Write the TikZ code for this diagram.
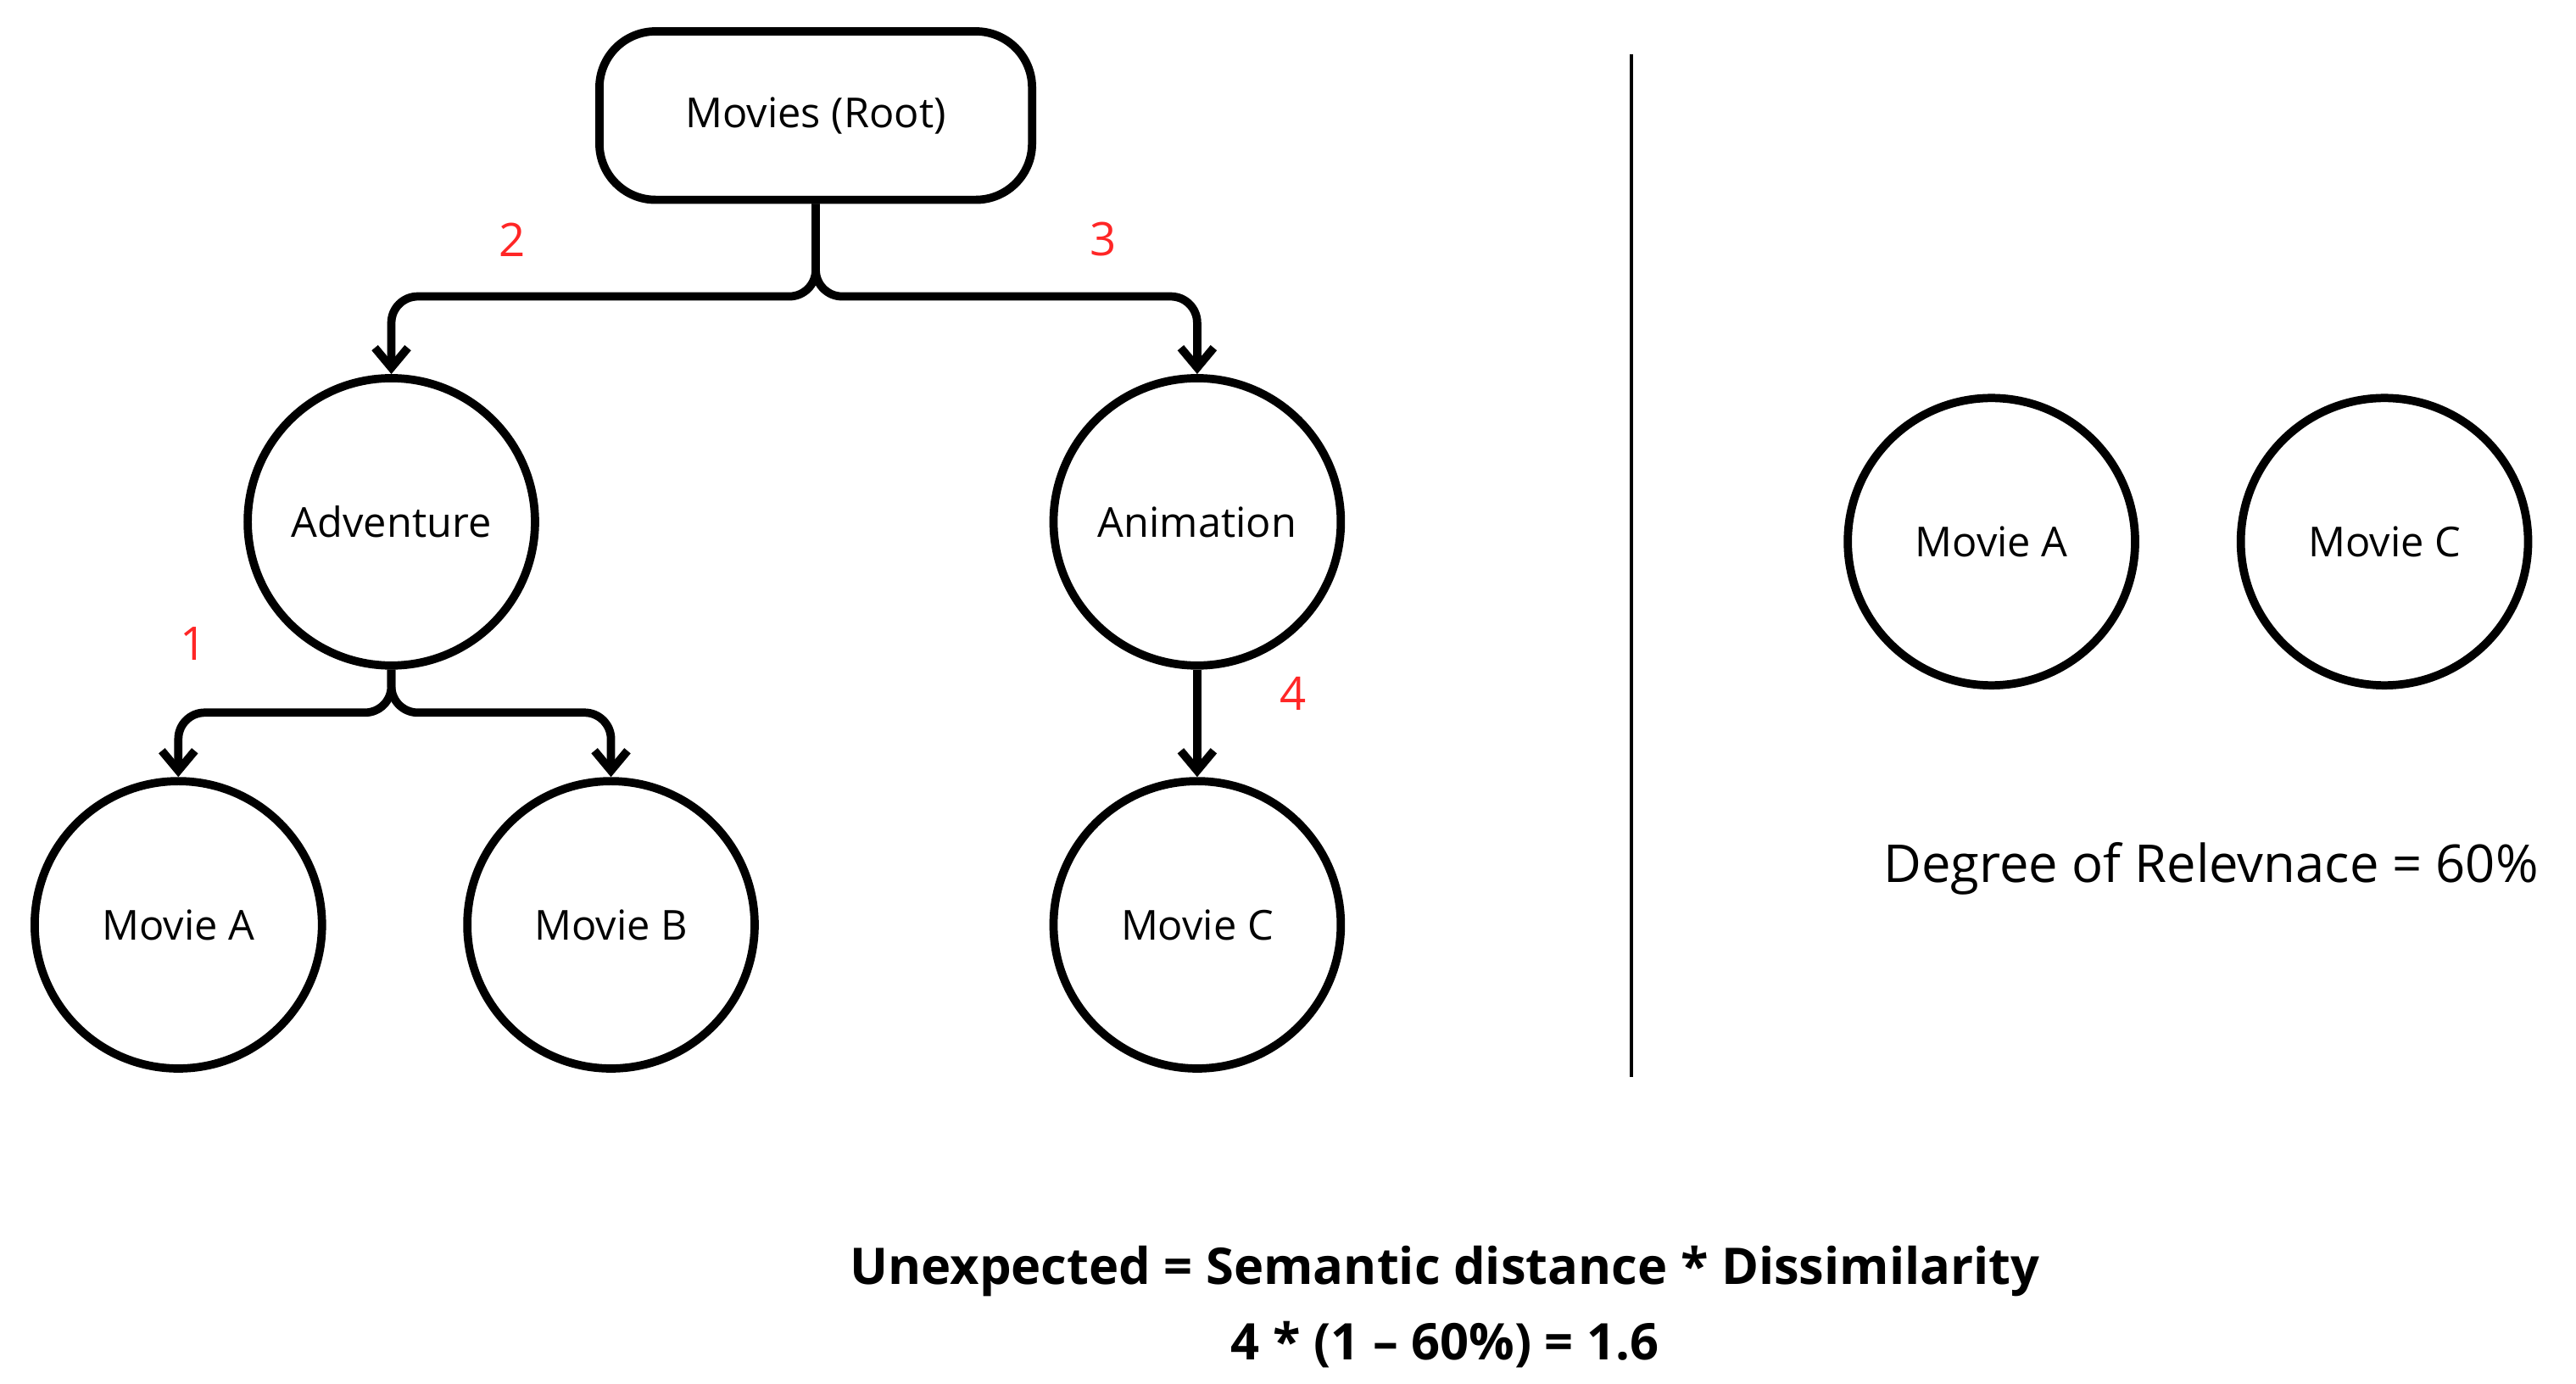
\documentclass[tikz,border=0pt]{standalone}
\usepackage{fontspec}
\setmainfont{Open Sans}
\usetikzlibrary{arrows.meta}
\begin{document}
\begin{tikzpicture}[x=0.5pt,y=-0.5pt,
  circ/.style={circle,draw,line width=2.5pt,minimum size=87pt,inner sep=0pt,font=\fontsize{12.5}{14}\selectfont},
  conn/.style={line width=2.5pt,rounded corners=8pt,-{Straight Barb[length=6pt,width=10pt,line width=2.5pt]}},
  lab/.style={text=red!85!white,font=\fontsize{14}{16}\selectfont}]
\useasboundingbox (0,0) rectangle (1560,838);
\node[draw,line width=2.5pt,rounded corners=17pt,minimum width=131pt,minimum height=51pt,font=\fontsize{12.5}{14}\selectfont] (root) at (494,70) {Movies (Root)};
\node[circ] (adv) at (237,316) {Adventure};
\node[circ] (ani) at (725,316) {Animation};
\node[circ] (ma) at (108,560) {Movie A};
\node[circ] (mb) at (370,560) {Movie B};
\node[circ] (mc) at (725,560) {Movie C};
\node[circ] (ra) at (1206,328) {Movie A};
\node[circ] (rc) at (1444,328) {Movie C};
\coordinate (l1) at (988,33);
\coordinate (l2) at (988,652);
\draw[line width=1pt] (l1) -- (l2);
\draw[conn] (root.south) -- ++(0,56) -| (adv.north);
\draw[conn] (root.south) -- ++(0,56) -| (ani.north);
\draw[conn] (adv.south) -- ++(0,26) -| (ma.north);
\draw[conn] (adv.south) -- ++(0,26) -| (mb.north);
\draw[conn] (ani.south) -- (mc.north);
\node[lab] (n2) at (310,145) {2};
\node[lab] (n3) at (668,145) {3};
\node[lab] (n1) at (117,390) {1};
\node[lab] (n4) at (783,420) {4};
\node[font=\fontsize{15.8}{18}\selectfont] (deg) at (1339,526) {Degree of Relevnace = 60\%};
\node[font=\bfseries\fontsize{15.3}{18}\selectfont] (f1) at (875,770) {Unexpected = Semantic distance * Dissimilarity};
\node[font=\bfseries\fontsize{15.3}{18}\selectfont] (f2) at (875,814) {4 * (1 – 60\%) = 1.6};
\end{tikzpicture}
\end{document}
